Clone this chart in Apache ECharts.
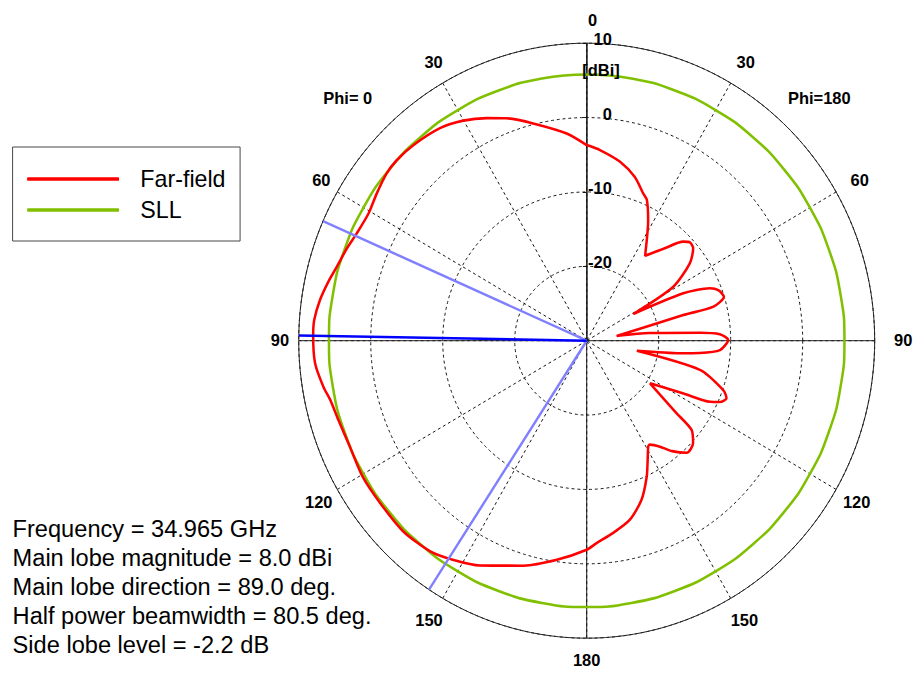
<!DOCTYPE html>
<html>
<head>
<meta charset="utf-8">
<script src="https://cdn.jsdelivr.net/npm/echarts@6/dist/echarts.min.js"></script>
<style>
html,body{margin:0;padding:0;background:#fff;overflow:hidden;}
#wrap{width:916px;height:681px;overflow:hidden;position:relative;}
#chart{width:946px;height:681px;position:absolute;left:0;top:0;transform:scaleX(0.968);transform-origin:0 0;}
</style>
</head>
<body>
<div id="wrap"><div id="chart"></div></div>
<script>
// ---- data ----
// angle in degrees (0 = top, counter-clockwise: 0..180 is Phi=0 side, 180..360 is Phi=180 side)
const ffAngle = [
  0, 5.7, 14.3, 20.4, 24.9, 30.1, 35.5, 42.5, 47.4, 51.0, 55.8, 60.5, 65.7, 69.6, 74.0, 77.5,
  81.6, 85.8, 89, 94.6, 99.6, 102.6, 107.2, 113.4, 120.5, 127.3, 135.2, 142.5, 147.9, 153.9,
  163.8, 172, 180,
  182.9, 188.1, 194, 199.6, 204.5, 207.9, 211, 212.1, 215.5, 218.6, 222.7, 227, 230.5, 232, 236.9,
  242.2, 244.4, 246, 248.3, 250.7, 256, 259, 262.6, 264, 266.1, 270.3, 272.7, 273.9, 276.7, 278.6,
  284.4, 284.6, 287.2, 290.4, 292.4, 295.4, 299, 301.1, 306, 310, 312.6, 314.8, 318.9, 324.6,
  332.2, 336.2, 338.4, 343.1, 349.1, 355.9, 360
];
const ffGain = [
  -3.7, -2.0, 0.15, 1.9, 3.0, 4.2, 5.1, 5.65, 5.85, 5.75, 5.25, 4.8, 5.05, 5.55, 6.1, 6.75,
  7.45, 7.95, 8.0, 7.85, 7.1, 6.5, 6.1, 5.85, 6.1, 6.05, 6.15, 5.7, 4.8, 3.65,
  1.5, -0.25, -1.9,
  -2.75, -3.9, -5.2, -7.3, -9.9, -11.9, -13.4, -13.5, -12.5, -11.0, -9.5, -9.8, -11.1, -14.15, -19.5,
  -14.8, -11.0, -9.74, -9.1, -9.9, -13.8, -22.9, -16.9, -14.2, -11.45, -10.35, -11.5, -14.2, -21.2, -25.8,
  -16.15, -11.8, -10.05, -10.5, -11.5, -15.15, -22.6, -15.95, -12.3, -10.7, -10.5, -11.1, -13.5, -16.0,
  -11.7, -9.3, -8.7, -7.0, -5.5, -4.3, -3.7
];
const sllLevel = 5.8;
const sllAngle = [0,10,20,30,40,50,60,70,80,90,100,110,120,130,140,150,160,170,180,
                  190,200,210,220,230,240,250,260,270,280,290,300,310,320,330,340,350,360];
const mainLobeDir = 89;
const hpbwEdges = [66.3, 146.8];
const radiusMin = -30, radiusMax = 10, radiusStep = 10;
const angleStep = 30;
const legendNames = ['Far-field', 'SLL'];
const infoLines = [
  'Frequency = 34.965 GHz',
  'Main lobe magnitude = 8.0 dBi',
  'Main lobe direction = 89.0 deg.',
  'Half power beamwidth = 80.5 deg.',
  'Side lobe level = -2.2 dB'
];
const unitLabel = '[dBi]';
const phiLeft = 'Phi= 0', phiRight = 'Phi=180';

// ---- styles ----
const FONT = '"Liberation Sans", Arial, sans-serif';
const labelBase = {fontFamily: FONT, fontWeight: 'bold', fontSize: 17, color: '#000', lineHeight: 14};
const anglePad = {
  0:[0,0,32,12], 30:[0,0,28,0], 60:[0,7,10,0], 90:[0,10,0,0], 120:[11,5,0,0], 150:[30,0,0,0],
  180:[31,0,0,0], 210:[30,0,0,0], 240:[11,0,0,7], 270:[0,0,0,20], 300:[0,0,10,15], 330:[0,0,28,6]
};
const angleRich = {};
Object.keys(anglePad).forEach(k => { angleRich['a' + k] = Object.assign({}, labelBase, {padding: anglePad[k]}); });

const chart = echarts.init(document.getElementById('chart'), null, {renderer: 'svg'});

const lineCommon = {type: 'line', coordinateSystem: 'polar', symbol: 'none', silent: true, animation: false};

chart.setOption({
  animation: false,
  textStyle: {fontFamily: FONT},
  polar: {center: [606.1, 340.7], radius: 297.5},
  angleAxis: {
    type: 'value', min: 0, max: 360, interval: angleStep, startAngle: 90, clockwise: false,
    axisLine: {show: true, lineStyle: {color: '#222', width: 1}},
    axisTick: {show: false},
    splitLine: {show: true, lineStyle: {color: '#111', width: 1, type: [3, 3]}},
    axisLabel: {
      margin: 0,
      formatter: function (v) {
        if (v >= 360) return '';
        const shown = v <= 180 ? v : 360 - v;
        return '{a' + v + '|' + shown + '}';
      },
      rich: angleRich
    }
  },
  radiusAxis: {
    type: 'value', min: radiusMin, max: radiusMax, interval: radiusStep,
    axisLine: {show: true, lineStyle: {color: '#111', width: 1}},
    axisTick: {show: true, length: 4, lineStyle: {color: '#111'}},
    splitLine: {show: true, lineStyle: {color: '#111', width: 1, type: [3, 3]}},
    axisLabel: {
      margin: -26,
      formatter: function (v) { return v === radiusMin ? '' : '{r|' + v + '}'; },
      rich: {r: Object.assign({}, labelBase, {padding: [0, 0, 7, 0]})}
    }
  },
  legend: {
    data: legendNames, orient: 'vertical', left: 13, top: 147,
    padding: [19, 15, 18, 15], itemWidth: 95, itemHeight: 3.5, itemGap: 5,
    icon: 'roundRect',
    borderColor: '#444', borderWidth: 1, borderRadius: 0, selectedMode: false,
    textStyle: {fontFamily: FONT, fontSize: 24, color: '#000', lineHeight: 26, padding: [0, 0, 0, 17]}
  },
  series: [
    Object.assign({}, lineCommon, {name: 'axisV', data: [[radiusMax, 0], [radiusMax, 180]],
      lineStyle: {color: '#111', width: 1}}),
    Object.assign({}, lineCommon, {name: 'axisH', data: [[radiusMax, 90], [radiusMax, 270]],
      lineStyle: {color: '#222', width: 1}}),
    Object.assign({}, lineCommon, {name: 'SLL', smooth: true,
      data: sllAngle.map(a => [sllLevel, a]),
      itemStyle: {color: '#80c000'}, lineStyle: {color: '#80c000', width: 2.6}}),
    Object.assign({}, lineCommon, {name: 'Far-field', smooth: 0.25,
      data: ffAngle.map((a, i) => [ffGain[i], a]),
      itemStyle: {color: '#ff0000'}, lineStyle: {color: '#ff0000', width: 2.6}}),
    Object.assign({}, lineCommon, {name: 'hpbw1', data: [[radiusMin, hpbwEdges[0]], [radiusMax, hpbwEdges[0]]],
      lineStyle: {color: '#8080ff', width: 2.5}}),
    Object.assign({}, lineCommon, {name: 'hpbw2', data: [[radiusMin, hpbwEdges[1]], [radiusMax, hpbwEdges[1]]],
      lineStyle: {color: '#8080ff', width: 2.5}}),
    Object.assign({}, lineCommon, {name: 'mainLobe', data: [[radiusMin, mainLobeDir], [radiusMax, mainLobeDir]],
      lineStyle: {color: '#0000ff', width: 2.5}})
  ],
  graphic: [
    {type: 'text', x: 620.9, y: 70, z: 10,
      style: {text: unitLabel, font: 'bold 17px ' + FONT, fill: '#000', align: 'center', verticalAlign: 'middle'}},
    {type: 'text', x: 334, y: 98.3, z: 10,
      style: {text: phiLeft, font: 'bold 17px ' + FONT, fill: '#000', align: 'left', verticalAlign: 'middle'}},
    {type: 'text', x: 814, y: 98.3, z: 10,
      style: {text: phiRight, font: 'bold 17px ' + FONT, fill: '#000', align: 'left', verticalAlign: 'middle'}},
    {type: 'text', left: 13, top: 514, z: 10,
      style: {text: infoLines.join('\n'), font: '24.4px ' + FONT, lineHeight: 29, fill: '#000'}}
  ]
});
</script>
</body>
</html>
